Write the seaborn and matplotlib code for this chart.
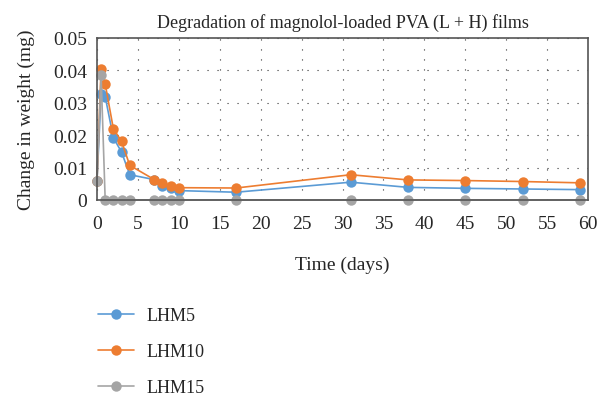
import matplotlib.pyplot as plt
import pandas as pd
import seaborn as sns

# Data
days = [0, 0.5, 1, 2, 3, 4, 7, 8, 9, 10, 17, 31, 38, 45, 52, 59]
lhm5 = [0.006, 0.0326, 0.0319, 0.0192, 0.0148, 0.0078, 0.0063, 0.0043, 0.0036, 0.0029,
        0.0024, 0.0055, 0.0039, 0.0036, 0.0034, 0.0032]
lhm10 = [0.006, 0.0405, 0.0358, 0.0220, 0.0181, 0.0107, 0.0063, 0.0053, 0.0044, 0.0038,
         0.0037, 0.0078, 0.0062, 0.0060, 0.0057, 0.0053]
lhm15 = [0.006, 0.0386, 0, 0, 0, 0, 0, 0, 0, 0, 0, 0, 0, 0, 0, 0]
series = ['LHM5', 'LHM10', 'LHM15']
colors = ['#5B9BD5', '#ED7D31', '#A5A5A5']

df = pd.DataFrame({'day': days, 'LHM5': lhm5, 'LHM10': lhm10, 'LHM15': lhm15})

sns.set_style('white')
plt.rcParams['font.family'] = ['Liberation Serif', 'DejaVu Serif']

fig = plt.figure(figsize=(6.14, 4.02), dpi=100)
ax = fig.add_axes([97 / 614, 1 - 201 / 402, 491 / 614, 162 / 402])

for name, col in zip(series, colors):
    sns.lineplot(data=df, x='day', y=name, ax=ax, color=col, label=name,
                 marker='o', markersize=7.5, markeredgewidth=0, linewidth=1.2,
                 sort=False, clip_on=False)

ax.set_xlim(0, 60)
ax.set_ylim(0, 0.05)
ax.set_xticks(range(0, 61, 5))
ax.set_yticks([0, 0.01, 0.02, 0.03, 0.04, 0.05])
ax.set_yticklabels(['0', '0.01', '0.02', '0.03', '0.04', '0.05'])
ax.tick_params(labelsize=14, length=0)
ax.tick_params(axis='x', pad=11)
ax.tick_params(axis='y', pad=7)
ax.grid(True, color='#333333', linestyle=(0, (1, 8)), linewidth=0.8)
for s in ax.spines.values():
    s.set_color('#555555')
    s.set_linewidth(1.2)

ax.set_xlabel('Time (days)', fontsize=14, labelpad=17)
ax.set_ylabel('Change in weight (mg)', fontsize=14, labelpad=13)
ax.set_title('Degradation of magnolol-loaded PVA (L + H) films', fontsize=13, pad=8)

handles, labels = ax.get_legend_handles_labels()
ax.get_legend().remove()
fig.legend(handles, labels, loc='upper left', bbox_to_anchor=(82 / 614, 1 - 292 / 402),
           frameon=False, fontsize=13, handlelength=2.0, handletextpad=0.7,
           labelspacing=1.05)

fig.savefig('out.png', dpi=100)
